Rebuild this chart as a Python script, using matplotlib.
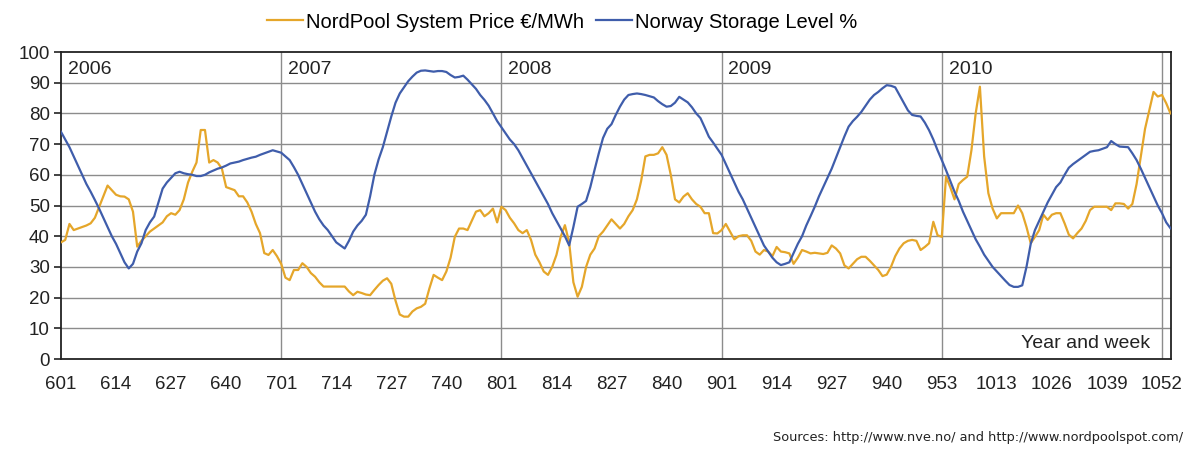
import numpy as np
import matplotlib.pyplot as plt

plt.rcParams['font.family'] = ['Liberation Sans', 'DejaVu Sans']

# weekly labels on the x axis (2009 had 53 weeks)
tick_labels = ['601', '614', '627', '640', '701', '714', '727', '740', '801', '814',
               '827', '840', '901', '914', '927', '940', '953', '1013', '1026', '1039', '1052']
years = ['2006', '2007', '2008', '2009', '2010']

# Norway storage level %, one value per week
storage = [
    74, 71.5, 69, 66, 63, 60, 57, 54.5, 51.8, 49, 46, 43, 40,
    37.5, 34.5, 31.5, 29.5, 31, 35, 37.7, 42, 44.5, 46.4, 51, 55.5, 57.5,
    59, 60.5, 61, 60.5, 60.2, 60, 59.6, 59.6, 60, 60.8, 61.4, 62, 62.4,
    63, 63.7, 64, 64.3, 64.8, 65.2, 65.6, 65.9, 66.5, 67, 67.5, 68, 67.6,
    67.2, 66, 64.8, 62.5, 60, 57, 54, 51, 48, 45.5, 43.5, 42, 40,
    38, 37, 36, 38.5, 41.5, 43.5, 45, 47, 53, 60, 65, 69, 74,
    79, 83.5, 86.5, 88.5, 90.5, 92, 93.3, 93.9, 94, 93.8, 93.6, 93.8, 93.8,
    93.5, 92.5, 91.7, 91.9, 92.3, 91, 89.5, 88, 86, 84.4, 82.5, 80, 77.5,
    75.5, 73.5, 71.5, 70, 68, 65.5, 63, 60.5, 58, 55.5, 53, 50.5, 47.5,
    45, 42.5, 40, 37, 43, 49.6, 50.5, 51.5, 56, 61.6, 67, 72, 75,
    76.5, 79.5, 82.2, 84.5, 86, 86.3, 86.5, 86.3, 86, 85.6, 85.2, 84, 83,
    82.2, 82.4, 83.5, 85.4, 84.5, 83.6, 82, 80, 78.5, 75.5, 72.4, 70.5, 68.5,
    66.5, 63.5, 60.5, 57.5, 54.5, 52, 49, 46, 43, 40, 37, 35, 33,
    31.5, 30.6, 31, 31.5, 34.5, 37.5, 40, 43.5, 46.5, 49.6, 53, 56, 59,
    62, 65.5, 69, 72.5, 75.7, 77.5, 78.9, 80.5, 82.5, 84.5, 86, 87, 88.2,
    89.2, 89, 88.5, 86, 83.5, 81, 79.5, 79.2, 79, 77, 74.5, 71.5, 68,
    64.8, 61.5, 58, 54.5, 51.5, 48, 45, 42, 39, 36.6, 34, 32, 30,
    28.5, 27, 25.5, 24.1, 23.5, 23.5, 24, 30, 37.5, 42, 45, 48, 51,
    53.5, 56, 57.5, 60, 62.3, 63.5, 64.5, 65.5, 66.5, 67.5, 67.8, 68, 68.5,
    69, 71, 70, 69.2, 69.1, 69, 67, 64.8, 62, 59, 56, 53, 50,
    47.5, 44.5, 42.6,
]

# NordPool system price EUR/MWh, one value per week
price = [
    38, 38.8, 44, 42, 42.5, 43, 43.5, 44.2, 46, 49.5, 53, 56.5, 55,
    53.5, 53, 52.9, 52, 48, 36.6, 38.5, 40, 41.5, 42.5, 43.5, 44.5, 46.5,
    47.5, 47, 48.5, 52, 57.5, 61, 64, 74.6, 74.6, 64, 64.8, 64, 62,
    56, 55.5, 55, 53, 53, 51, 48, 44, 41, 34.5, 33.9, 35.5, 33.5,
    31, 26.5, 25.7, 29, 29, 31.2, 30, 28, 26.8, 25, 23.6, 23.6, 23.6,
    23.6, 23.6, 23.6, 22, 20.8, 21.9, 21.5, 21, 20.8, 22.5, 24.1, 25.5, 26.3,
    24.5, 19, 14.5, 13.8, 13.8, 15.5, 16.5, 17, 18, 23, 27.4, 26.5, 25.7,
    28.5, 33, 39.8, 42.5, 42.5, 42, 45, 48, 48.5, 46.5, 47.5, 49, 44.5,
    49.6, 48.5, 46, 44.2, 42, 41, 42, 38.8, 34, 31.5, 28.5, 27.4, 30,
    33.9, 39.8, 43.6, 38, 25, 20.3, 23.5, 30, 34, 36, 40, 41.5, 43.5,
    45.5, 44, 42.5, 44, 46.5, 48.5, 52, 58, 66, 66.5, 66.5, 67, 69,
    66.5, 60, 52, 51, 52.9, 54, 52, 50.5, 49.6, 47.5, 47.5, 41, 40.9,
    42, 44, 41.5, 39, 40, 40.3, 40.3, 38.5, 35, 34, 35.5, 35, 33.5,
    36.5, 35, 34.8, 34.4, 31, 33, 35.5, 35, 34.4, 34.6, 34.4, 34.2, 34.6,
    37, 36, 34.4, 30.5, 29.5, 31, 32.5, 33.3, 33.3, 32, 30.5, 29, 27,
    27.5, 30, 33.5, 36, 37.7, 38.5, 38.8, 38.5, 35.5, 36.5, 37.7, 44.7, 40.3,
    39.8, 59.4, 56, 52, 57, 58.3, 59.4, 68, 80, 88.7, 66, 54, 49,
    45.8, 47.5, 47.5, 47.5, 47.5, 50, 47.5, 43, 37.7, 39.8, 42, 47, 45.3,
    47, 47.5, 47.5, 44.2, 40.5, 39.3, 41, 42.5, 45, 48.5, 49.6, 49.6, 49.6,
    49.6, 48.5, 50.7, 50.7, 50.5, 49, 50.5, 57, 66, 75, 81, 87, 85.5,
    86, 83.3, 80,
]

weeks = np.arange(len(storage))

fig = plt.figure(figsize=(11.96, 4.5), dpi=100)
ax = fig.add_axes([0.051, 0.2022, 0.928, 0.6822])

grid_col = '#8c8c8c'
for yv in range(10, 100, 10):
    ax.axhline(yv, color=grid_col, lw=1.0, zorder=1)
for k in range(1, 6):
    ax.axvline(52 * k, color=grid_col, lw=1.0, zorder=1)

ax.plot(weeks, price, color='#E5A62A', lw=1.6, zorder=3, label='NordPool System Price €/MWh')
ax.plot(weeks, storage, color='#3F5DAB', lw=1.6, zorder=4, label='Norway Storage Level %')

ax.set_xlim(0, 262.1)
ax.set_ylim(0, 100)
ax.set_yticks(range(0, 101, 10))
ax.set_xticks(np.arange(0, 261, 13))
ax.set_xticklabels(tick_labels)
ax.set_xticks(np.arange(0, 261, 52), minor=True)
ax.tick_params(axis='x', which='major', length=0, pad=12, labelsize=13.5, colors='#222222')
ax.tick_params(axis='x', which='minor', length=6, width=1.2, direction='out', color='#222222')
ax.tick_params(axis='y', length=5, width=1.2, direction='out', labelsize=13.5, colors='#222222', pad=3)
for s in ax.spines.values():
    s.set_color('#222222')
    s.set_linewidth(1.3)

for k, yr in enumerate(years):
    ax.text(52 * k + 1.6, 94.3, yr, fontsize=14, color='#222222', va='center', ha='left')

ax.text(257.2, 5.0, 'Year and week', fontsize=14, color='#222222', ha='right', va='center')

fig.legend(loc='center', bbox_to_anchor=(562 / 1196, 1 - 22 / 450), ncol=2, frameon=False,
           fontsize=14.5, handlelength=1.8, handletextpad=0.15, columnspacing=0.6)

fig.text(1183 / 1196, 1 - 437 / 450,
         'Sources: http://www.nve.no/ and http://www.nordpoolspot.com/',
         fontsize=9.3, color='#222222', ha='right', va='center', family='DejaVu Sans')

fig.savefig('out.png', dpi=100)
